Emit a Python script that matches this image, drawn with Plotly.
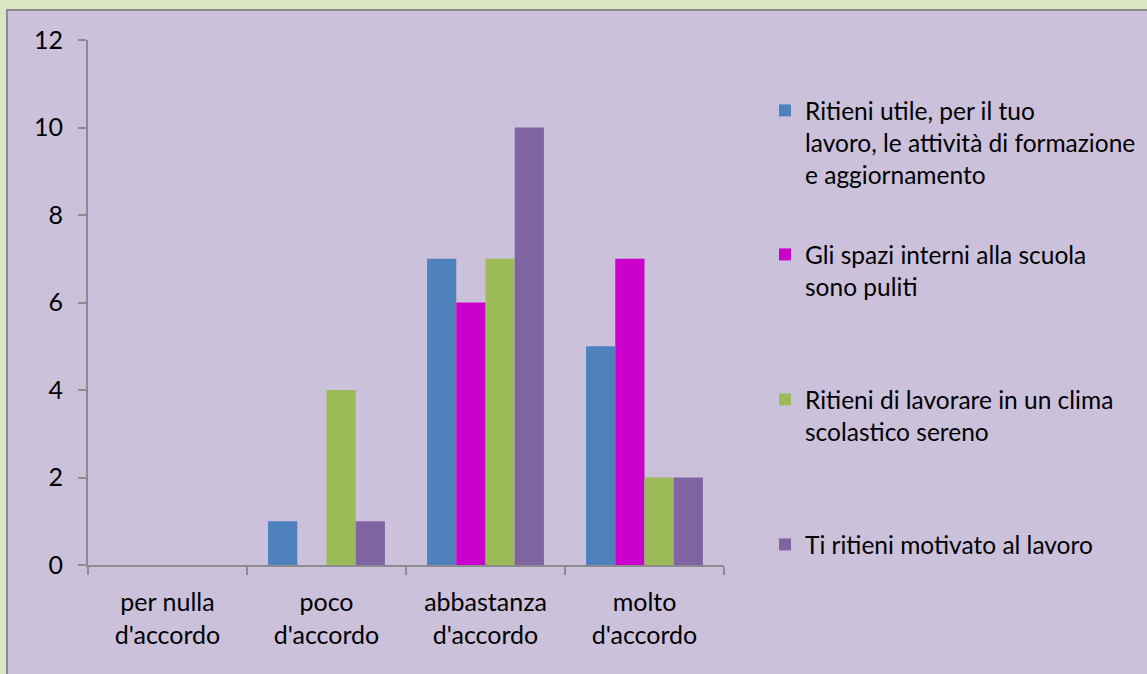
import plotly.graph_objects as go

categories = ["per nulla<br>d'accordo", "poco<br>d'accordo", "abbastanza<br>d'accordo", "molto<br>d'accordo"]
series_names = [
    "Ritieni utile, per il tuo<br>lavoro, le attività di formazione<br>e aggiornamento",
    "Gli spazi interni alla scuola<br>sono puliti",
    "Ritieni di lavorare in un clima<br>scolastico sereno",
    "Ti ritieni motivato al lavoro",
]
utile = [0, 1, 7, 5]
spazi = [0, 0, 6, 7]
clima = [0, 4, 7, 2]
motivato = [0, 1, 10, 2]
colors = ["#4f81bd", "#cc00cc", "#9bbb59", "#8064a2"]
y_ticks = [0, 2, 4, 6, 8, 10, 12]

FONT = "Lato"
FS = 25
LFS = 24.5
W, H = 1147, 674
L, R, T, B = 88, 724, 40, 565

def px_x(p):
    return (p - L) / (R - L)

def px_y(p):
    return (B - p) / (B - T)

fig = go.Figure()
values = [utile, spazi, clima, motivato]
legend_ids = ["legend", "legend2", "legend3", "legend4"]
for name, vals, col, lg in zip(series_names, values, colors, legend_ids):
    fig.add_trace(go.Bar(x=categories, y=vals, name=name, marker=dict(color=col, line=dict(width=0)),
                         legend=lg))

legend_tops = [88, 232, 377, 522]
leg_common = dict(bgcolor="rgba(0,0,0,0)", font=dict(family=FONT, size=LFS, color="#000000"),
                  valign="top", xanchor="left", yanchor="top", borderwidth=0,
                  xref="container", yref="container")
layout_legends = {}
for lg, top in zip(legend_ids, legend_tops):
    layout_legends[lg] = dict(x=765 / W, y=1 - top / H, **leg_common)

fig.update_layout(
    width=W, height=H,
    margin=dict(l=L, r=W - R, t=T, b=H - B, autoexpand=False),
    paper_bgcolor="#dbe6c4",
    plot_bgcolor="#ffffff",
    barmode="group",
    bargap=0.265,
    bargroupgap=0,
    showlegend=True,
    font=dict(family=FONT, size=FS, color="#000000"),
    **layout_legends,
)
fig.update_xaxes(
    showgrid=False, showline=True, linecolor="#8c8c8c", linewidth=2,
    ticks="outside", tickson="boundaries", ticklen=8, tickcolor="#8c8c8c", tickwidth=2,
    tickfont=dict(family=FONT, size=FS, color="#000000"), ticklabelstandoff=14,
)
fig.update_yaxes(
    range=[0, 12], tickvals=y_ticks, showgrid=False, zeroline=False,
    showline=True, linecolor="#8c8c8c", linewidth=2,
    ticks="outside", ticklen=8, tickcolor="#8c8c8c", tickwidth=2,
    tickfont=dict(family=FONT, size=FS, color="#000000"), ticklabelstandoff=10,
)
fig.add_shape(type="rect", xref="paper", yref="paper", layer="below",
              x0=px_x(7), x1=px_x(W + 10), y0=px_y(10), y1=px_y(H + 10),
              fillcolor="#ccc1da", line=dict(color="#8c8c8c", width=2))

fig.write_html("out.html", config={"displayModeBar": False},
               post_script="document.body.style.margin='0';")
